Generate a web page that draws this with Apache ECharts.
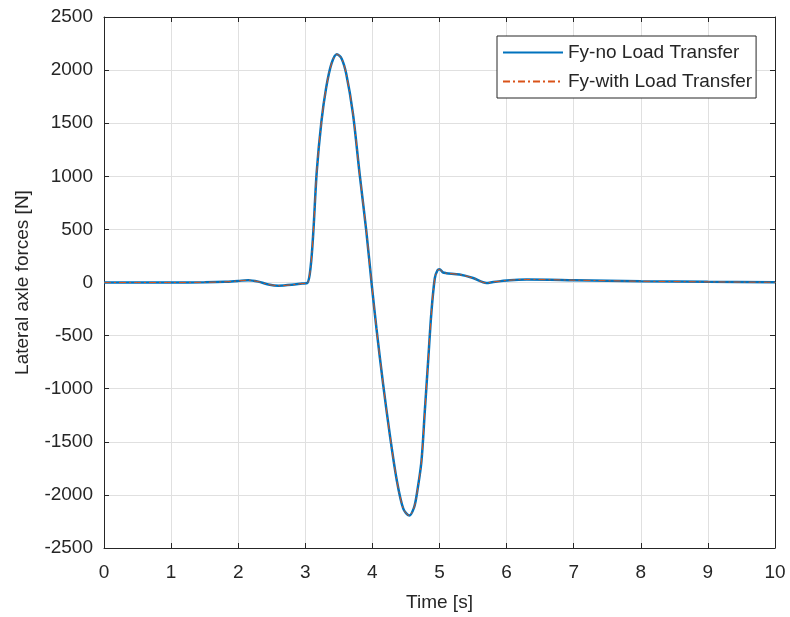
<!DOCTYPE html>
<html><head><meta charset="utf-8">
<script src="https://cdn.jsdelivr.net/npm/echarts@6/dist/echarts.min.js"></script>
<style>html,body{margin:0;padding:0;background:#fff}#c{width:790px;height:617px}</style>
</head><body><div id="c"></div>
<script>
const time = [0, 0.5, 1, 1.5, 1.8, 2.0, 2.15, 2.3, 2.45, 2.6, 2.8, 2.95, 3.03, 3.08, 3.12, 3.17, 3.24, 3.31, 3.39, 3.47, 3.54, 3.61, 3.71, 3.81, 3.91, 3.99, 4.06, 4.16, 4.26, 4.36, 4.46, 4.55, 4.62, 4.66, 4.73, 4.78, 4.83, 4.88, 4.93, 4.97, 5.0, 5.05, 5.1, 5.3, 5.5, 5.7, 5.8, 6.05, 6.3, 7, 8, 9, 10];
const fyNoLoadTransfer = [0, 0, 0, 2, 6, 15, 22, 8, -18, -30, -22, -10, -5, 150, 480, 1040, 1515, 1830, 2060, 2150, 2110, 1965, 1590, 1020, 480, -20, -430, -960, -1435, -1850, -2130, -2195, -2120, -2000, -1690, -1220, -745, -275, 40, 115, 125, 95, 88, 75, 42, -5, 5, 22, 28, 22, 12, 6, 2];
const fyWithLoadTransfer = [0, 0, 0, 2, 6, 15, 22, 8, -18, -30, -22, -10, -5, 150, 480, 1040, 1515, 1830, 2060, 2150, 2110, 1965, 1590, 1020, 480, -20, -430, -960, -1435, -1850, -2130, -2195, -2120, -2000, -1690, -1220, -745, -275, 40, 115, 125, 95, 88, 75, 42, -5, 5, 22, 28, 22, 12, 6, 2];
const xTicks = [0, 1, 2, 3, 4, 5, 6, 7, 8, 9, 10];
const yTicks = [-2500, -2000, -1500, -1000, -500, 0, 500, 1000, 1500, 2000, 2500];
const seriesNames = ['Fy-no Load Transfer', 'Fy-with Load Transfer'];

const txt = '#262626';
const font = 'Liberation Sans, Arial, sans-serif';
const fs = 19;
const chart = echarts.init(document.getElementById('c'));
const pairs = (ys) => time.map((t, i) => [t, ys[i]]);
const axisCommon = () => ({
  axisLine: { show: true, onZero: false, lineStyle: { color: txt, width: 1 } },
  axisTick: { show: true, inside: true, length: 5, lineStyle: { color: txt } },
});
chart.setOption({
  animation: false,
  grid: { left: 104, right: 15, top: 17, bottom: 66, containLabel: false },
  xAxis: [
    Object.assign({
      type: 'value', min: xTicks[0], max: xTicks[xTicks.length - 1], interval: 1,
      name: 'Time [s]', nameLocation: 'middle', nameGap: 45,
      nameTextStyle: { color: txt, fontSize: fs, fontFamily: font },
      axisLabel: { color: txt, fontSize: fs, fontFamily: font, margin: 15, formatter: v => String(v) },
      splitLine: { show: true, lineStyle: { color: '#e0e0e0', width: 1 } }
    }, axisCommon()),
    Object.assign({
      type: 'value', position: 'top', min: 0, max: 10, interval: 1,
      axisLabel: { show: false }, splitLine: { show: false }
    }, axisCommon())
  ],
  yAxis: [
    Object.assign({
      type: 'value', min: yTicks[0], max: yTicks[yTicks.length - 1], interval: 500,
      name: 'Lateral axle forces [N]', nameLocation: 'middle', nameGap: 72,
      nameTextStyle: { color: txt, fontSize: fs, fontFamily: font },
      axisLabel: { color: txt, fontSize: fs, fontFamily: font, margin: 11, formatter: v => String(v) },
      splitLine: { show: true, lineStyle: { color: '#e0e0e0', width: 1 } }
    }, axisCommon()),
    Object.assign({
      type: 'value', position: 'right', min: -2500, max: 2500, interval: 500,
      axisLabel: { show: false }, splitLine: { show: false }
    }, axisCommon())
  ],
  legend: {
    orient: 'vertical', left: 497, top: 36,
    padding: [7, 4, 7, 5], itemGap: 10, itemWidth: 60, itemHeight: 16,
    borderColor: txt, borderWidth: 1, backgroundColor: '#fff', borderRadius: 0,
    textStyle: { color: txt, fontSize: fs, fontFamily: font },
    itemStyle: { opacity: 0 },
    data: seriesNames
  },
  series: [
    {
      name: seriesNames[0], type: 'line', data: pairs(fyNoLoadTransfer),
      showSymbol: false, symbol: 'none', smooth: 0.3,
      lineStyle: { color: '#0072BD', width: 2.5 }, itemStyle: { color: '#0072BD' }
    },
    {
      name: seriesNames[1], type: 'line', data: pairs(fyWithLoadTransfer),
      showSymbol: false, symbol: 'none', smooth: 0.3,
      lineStyle: { color: '#D95319', width: 1, type: [7, 3, 2, 3] }, itemStyle: { color: '#D95319' }
    }
  ]
});
</script></body></html>
